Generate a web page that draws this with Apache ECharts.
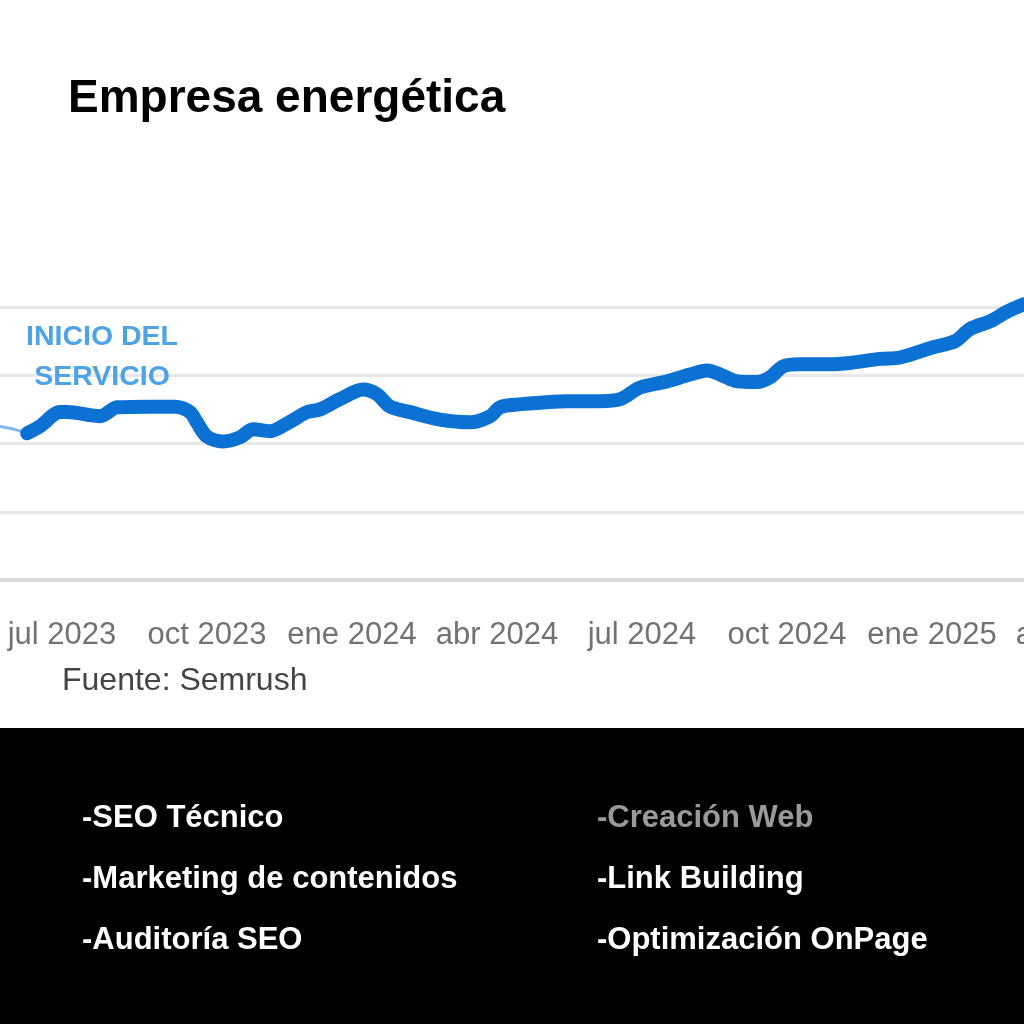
<!DOCTYPE html>
<html>
<head>
<meta charset="utf-8">
<script src="https://cdn.jsdelivr.net/npm/echarts@6/dist/echarts.min.js"></script>
<style>
  html, body { margin: 0; padding: 0; background: #fff; }
  #chart { width: 1024px; height: 1024px; }
</style>
</head>
<body>
<div id="chart"></div>
<script>
// months counted from jul 2023 (= 0)
const tickLabels = ['abr 2023', 'jul 2023', 'oct 2023', 'ene 2024', 'abr 2024', 'jul 2024', 'oct 2024', 'ene 2025', 'abr 2025']

// before the service started (thin line)
const beforeMonths = [-1.3, -1.0, -0.72]
const beforeValues = [2.25, 2.21, 2.15]

// traffic after the service started
const months = [-0.72, -0.46, -0.04, 0.10, 0.79, 1.14, 1.82, 2.34, 2.65, 2.79, 3.00, 3.33, 3.68, 3.95, 4.30, 4.72, 5.07, 5.34, 5.75, 6.23, 6.52, 6.79, 7.20, 7.82, 8.44, 8.86, 9.06, 9.41, 10.45, 11.13, 11.55, 11.96, 12.52, 12.99, 13.35, 13.62, 13.97, 14.38, 14.65, 14.92, 15.27, 15.89, 16.30, 16.93, 17.34, 18.02, 18.48, 18.79, 19.20, 19.55, 19.90]
const values = [2.15, 2.25, 2.46, 2.46, 2.40, 2.53, 2.54, 2.54, 2.46, 2.31, 2.10, 2.03, 2.09, 2.21, 2.18, 2.32, 2.46, 2.50, 2.65, 2.79, 2.72, 2.54, 2.46, 2.35, 2.31, 2.40, 2.53, 2.57, 2.62, 2.62, 2.65, 2.82, 2.91, 3.01, 3.07, 3.01, 2.91, 2.90, 2.97, 3.13, 3.16, 3.16, 3.18, 3.24, 3.26, 3.41, 3.50, 3.68, 3.79, 3.93, 4.04]

const servicesLeft = ['-SEO Técnico', '-Marketing de contenidos', '-Auditoría SEO']
const servicesRight = ['-Creación Web', '-Link Building', '-Optimización OnPage']

const font = 'Liberation Sans, Arial, sans-serif'

const listItems = []
servicesLeft.forEach((t, i) => {
  listItems.push({
    type: 'text', x: 82, y: 818 + i * 61, z: 100,
    style: { text: t, fill: '#fff', font: 'bold 31px ' + font, textVerticalAlign: 'middle' }
  })
})
servicesRight.forEach((t, i) => {
  listItems.push({
    type: 'text', x: 597, y: 818 + i * 61, z: 100,
    style: { text: t, fill: i === 0 ? '#9a9a9a' : '#fff', font: 'bold 31px ' + font, textVerticalAlign: 'middle' }
  })
})

const chart = echarts.init(document.getElementById('chart'))
chart.setOption({
  animation: false,
  backgroundColor: '#fff',
  grid: { left: -83, right: -53, top: 307, bottom: 444, outerBoundsMode: 'none', containLabel: false },
  xAxis: {
    type: 'value',
    min: -3,
    max: 21,
    interval: 3,
    axisLine: { show: true, lineStyle: { color: '#d9d9dc', width: 4 } },
    axisTick: { show: false },
    splitLine: { show: false },
    axisLabel: {
      margin: 40,
      color: '#727272',
      fontSize: 31,
      fontFamily: font,
      hideOverlap: false,
      formatter: v => tickLabels[Math.round((v + 3) / 3)] || ''
    }
  },
  yAxis: {
    type: 'value',
    min: 0,
    max: 4,
    interval: 1,
    axisLine: { show: false },
    axisTick: { show: false },
    axisLabel: { show: false },
    splitLine: { lineStyle: { color: '#e8e8ea', width: 3 } }
  },
  series: [{
    type: 'line',
    data: beforeMonths.map((m, i) => [m, beforeValues[i]]),
    smooth: 0.3,
    clip: false,
    symbol: 'none',
    lineStyle: { color: '#7fb8ea', width: 3 }
  }, {
    type: 'line',
    data: months.map((m, i) => [m, values[i]]),
    smooth: 0.3,
    clip: false,
    symbol: 'none',
    lineStyle: { color: '#0b72d4', width: 14, cap: 'round', join: 'round' }
  }],
  graphic: [{
    type: 'text', x: 68, y: 99, z: 100,
    style: { text: 'Empresa energética', fill: '#000', font: 'bold 46px ' + font, textVerticalAlign: 'middle' }
  }, {
    type: 'text', x: 102, y: 337, z: 100,
    style: { text: 'INICIO DEL', fill: '#4da3e8', font: 'bold 28.5px ' + font, textAlign: 'center', textVerticalAlign: 'middle' }
  }, {
    type: 'text', x: 102, y: 377, z: 100,
    style: { text: 'SERVICIO', fill: '#4da3e8', font: 'bold 28.5px ' + font, textAlign: 'center', textVerticalAlign: 'middle' }
  }, {
    type: 'text', x: 62, y: 681, z: 100,
    style: { text: 'Fuente: Semrush', fill: '#444', font: '32px ' + font, textVerticalAlign: 'middle' }
  }, {
    type: 'rect', left: 0, top: 728, z: 50,
    shape: { width: 1024, height: 296 },
    style: { fill: '#000' }
  }].concat(listItems)
})
</script>
</body>
</html>
